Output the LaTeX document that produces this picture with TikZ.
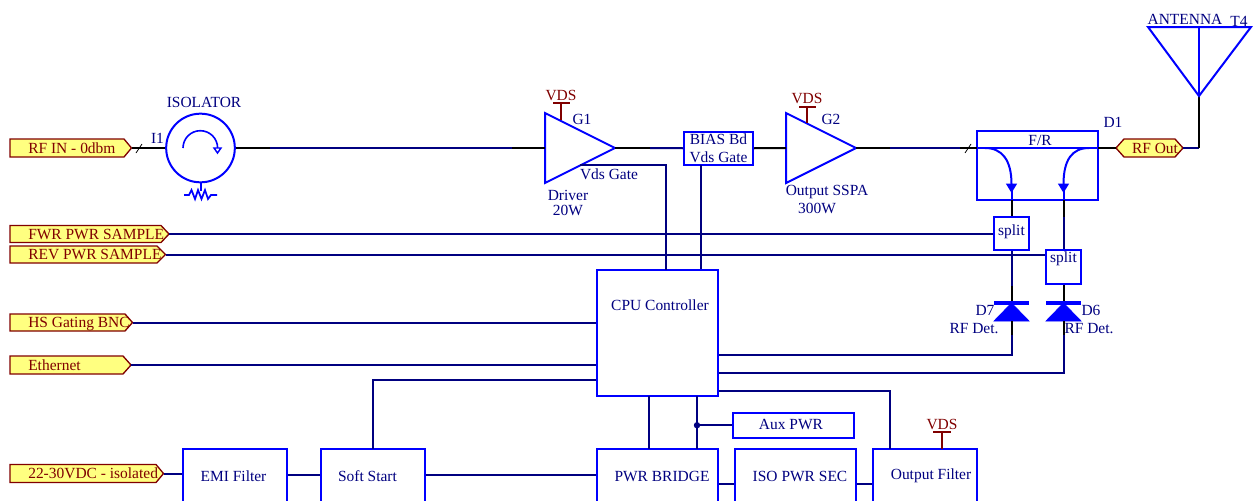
\documentclass[tikz,border=0pt]{standalone}
\usepackage{fontspec}
\setmainfont{Liberation Serif}
\usetikzlibrary{fit,arrows.meta}
\definecolor{wirenavy}{RGB}{0,0,128}
\definecolor{partblue}{RGB}{0,0,255}
\definecolor{portred}{RGB}{128,0,0}
\definecolor{portfill}{RGB}{255,255,128}
\tikzset{
  wire/.style={draw=wirenavy,line width=1.5pt},
  pin/.style={draw=black,line width=1.5pt},
  part/.style={draw=partblue,line width=1.5pt,line join=miter},
  blk/.style={part,inner sep=0pt,fill=white},
  txt/.style={text=wirenavy,font=\fontsize{11.6}{13.5}\selectfont,inner sep=0pt},
  porttxt/.style={text=portred,font=\fontsize{11.6}{13.5}\selectfont,inner sep=0pt},
  portshape/.style={draw=portred,fill=portfill,line width=1pt},
  pwr/.style={draw=portred,line width=1.3pt},
  pwrtxt/.style={text=portred,font=\fontsize{11.6}{13.5}\selectfont,inner sep=0pt},
  tick/.style={draw=black,line width=.6pt},
  sol/.style={-{Triangle[length=7pt,width=8pt,fill=partblue]}},
}
% name, x1, y1, x2, y2
\newcommand{\blockbox}[5]{\node[blk,fit={(#2,#3)(#4,#5)}] (#1) {};}
% right-pointing port: name, x2(shoulder), tip x, y top, y mid, y bottom, text
\newcommand{\portright}[7]{%
  \draw[portshape] (10,#4) -- (#2,#4) -- (#3,#5) -- (#2,#6) -- (10,#6) -- cycle;
  \coordinate (#1) at (#3,#5);
  \node[porttxt,anchor=base west] (#1txt) at (28,#5+5) {#7};}
\begin{document}
\begin{tikzpicture}[x=0.75pt,y=-0.75pt]
\useasboundingbox (0,0) rectangle (1253,500);
\clip (0,0) rectangle (1253,500);

% --- main RF wires
\coordinate (rfa) at (270,148);
\coordinate (rfb) at (512,148);
\coordinate (oa) at (890,148);
\coordinate (ob) at (960,148);
\draw[wire] (rfa) -- (rfb);
\draw[wire] (oa) -- (ob);

% --- ports on the left
\portright{rfin}{124}{131.5}{139}{148}{157}{RF IN - 0dbm}
\portright{fwr}{161}{169}{225.5}{234}{242.5}{FWR PWR SAMPLE}
\portright{rev}{157}{165.5}{246}{254.5}{263}{REV PWR SAMPLE}
\portright{hs}{125}{132.5}{314}{322.5}{331}{HS Gating BNC}
\portright{eth}{123}{131}{356}{365}{374}{Ethernet}
\portright{dc}{156}{163.5}{464.5}{473.5}{482.5}{22-30VDC - isolated}

% --- isolator
\node[circle,part,minimum size=51.5pt,inner sep=0pt] (iso) at (200.5,148) {};
\draw[pin] (rfin) -- (iso.west);
\draw[tick] (136,153) -- (142,144);
\draw[pin] (iso.east) -- (rfa);
\draw[part,line width=1.2pt] (183,148) arc[start angle=180,end angle=360,radius=17.3];
\draw[part,line width=1.1pt,fill=white] (214,148) -- (221,148) -- (217.5,153) -- cycle;
\coordinate (rtop) at (200.5,191);
\draw[part] (iso.south) -- (rtop);
\draw[part,line width=1.3pt] (184,195) -- (189,195) -- (191.5,190) -- (195,199) -- (198,190) -- (201.5,199) -- (205,190) -- (208,199) -- (211,195) -- (217,195);
\node[txt] (isol) at (204,102) {ISOLATOR};
\node[txt] (i1) at (157.5,138) {I1};

% --- amplifier G1
\draw[part] (545,113) coordinate (g1a) -- (615,148) coordinate (g1out) -- (545,183) coordinate (g1b) -- cycle;
\coordinate (g1in) at (545,148);
\draw[pin] (rfb) -- (g1in);
\draw[pwr] (561,103) coordinate (v1) -- (561,120);
\draw[pwr] (553,103) -- (570,103);
\node[pwrtxt] (v1t) at (561,95) {VDS};
\node[txt] (g1l) at (582,119) {G1};
\node[txt] (g1g) at (609,174) {Vds Gate};
\node[txt] (g1d) at (568,195) {Driver};
\node[txt] (g1w) at (568,210) {20W};

% --- bias board
\node[blk,fit={(684,131.5)(753,165)},align=center] (bias) {};
\node[txt,align=center] (biast) at (718.5,148.5) {BIAS Bd\\Vds Gate};
\coordinate (g1mid) at (650,148);
\draw[pin] (g1out) -- (g1mid);
\draw[wire] (g1mid) -- (bias.west);

% --- amplifier G2
\draw[part] (786,113) -- (856,148) coordinate (g2out) -- (786,183) -- cycle;
\coordinate (g2in) at (786,148);
\draw[pin] (bias.east) -- (g2in);
\draw[pin] (g2out) -- (oa);
\draw[pwr] (807,107) -- (807,123);
\draw[pwr] (799,107) -- (816,107);
\node[pwrtxt] (v2t) at (807,98) {VDS};
\node[txt] (g2l) at (831,119) {G2};
\node[txt] (g2o) at (827,192) {Output SSPA};
\node[txt] (g2w) at (817,208) {300W};

% --- F/R coupler
\node[blk,fit={(977,131)(1098,200)}] (fr) {};
\coordinate (frw) at (977,148);
\coordinate (fre) at (1098,148);
\draw[part] (frw) -- (fre);
\node[txt] (frt) at (1040,140) {F/R};
\node[txt] (d1) at (1113,122) {D1};
\draw[pin] (ob) -- (frw);
\draw[tick] (965,153) -- (971,144);
\coordinate (cl) at (1011.5,200);
\coordinate (cr) at (1063.5,200);
\draw[part,sol] (985,148) .. controls (1002,148) and (1011.5,160) .. (1011.5,193);
\draw[part] (1011.5,190) -- (cl);
\draw[part,sol] (1089,148) .. controls (1072,148) and (1063.5,160) .. (1063.5,193);
\draw[part] (1063.5,190) -- (cr);

% --- RF out and antenna
\draw[portshape] (1116,148) -- (1124,139) -- (1175,139) -- (1183,148) -- (1175,157) -- (1124,157) -- cycle;
\coordinate (rfo) at (1116,148);
\coordinate (rfoe) at (1183,148);
\node[porttxt] (rfot) at (1155,148) {RF Out};
\draw[pin] (fre) -- (rfo);
\coordinate (anta) at (1199,96);
\draw[wire] (rfoe) -- (1199,148);
\draw[pin] (1199,148) -- (anta);
\draw[part] (1148,27) -- (1251,27) -- (anta) -- cycle;
\draw[part] (1199,27) -- (anta);
\node[txt] (antt) at (1185,19) {ANTENNA};
\node[txt] (t4) at (1239,21) {T4};

% --- splitters and detectors
\node[blk,fit={(994,217)(1029,250)}] (s1) {};
\node[txt] (s1t) at (1011.5,232) {split};
\node[blk,fit={(1046,250)(1081,284)}] (s2) {};
\node[txt] (s2t) at (1063.5,259) {split};
\draw[pin] (cl) -- (s1.north);
\draw[pin] (cr) -- (1063.5,217);
\draw[wire] (1063.5,217) -- (s2.north);
\draw[wire] (fwr) -- (s1.west |- fwr);
\draw[wire] (rev) -- (s2.west |- rev);

\coordinate (d7k) at (1011.5,303);
\coordinate (d6k) at (1063.5,303);
\coordinate (d7a) at (1011.5,321);
\coordinate (d6a) at (1063.5,321);
\draw[wire] (s1.south) -- (1011.5,286);
\draw[pin] (1011.5,286) -- (d7k);
\draw[pin] (s2.south) -- (d6k);
\draw[part,line width=3pt] (994,303) -- (1029,303);
\draw[part,line width=3pt] (1046,303) -- (1081,303);
\draw[part,fill=partblue,line width=.5pt] (d7k) -- (1029,321) -- (994,321) -- cycle;
\draw[part,fill=partblue,line width=.5pt] (d6k) -- (1081,321) -- (1046,321) -- cycle;
\node[txt] (d7l) at (985,310) {D7};
\node[txt] (d7r) at (974,329) {RF Det.};
\node[txt] (d6l) at (1091,310) {D6};
\node[txt] (d6r) at (1089,329) {RF Det.};

% --- CPU
\node[blk,fit={(597,270)(718,396)}] (cpu) {};
\node[txt] (cput) at (660,305) {CPU Controller};
\coordinate (gg) at (580,165);
\coordinate (bt) at (701,165);
\draw[wire] (gg) -- (666,165) -- (666,270);
\draw[wire] (bt) -- (bt |- cpu.north);
\draw[wire] (hs) -- (cpu.west |- hs);
\draw[wire] (eth) -- (cpu.west |- eth);
\draw[pin] (d7a) -- (1011.5,335);
\draw[wire] (1011.5,335) -- (1011.5,354.5) -- (cpu.east |- 0,354.5);
\draw[pin] (d6a) -- (1063.5,335);
\draw[wire] (1063.5,335) -- (1063.5,372.5) -- (cpu.east |- 0,372.5);

% --- power chain
\blockbox{emi}{183}{449}{287}{503}
\blockbox{soft}{321}{449}{425}{503}
\blockbox{bridge}{597}{449}{718}{503}
\blockbox{isop}{735}{449}{856}{503}
\blockbox{outf}{873}{449}{977}{503}
\node[blk,fit={(733,413)(854,437.5)}] (aux) {};
\node[txt] (auxt) at (791,424.5) {Aux PWR};
\node[txt] (emit) at (233.5,476) {EMI Filter};
\node[txt] (softt) at (367.5,476) {Soft Start};
\node[txt] (bridget) at (662,476) {PWR BRIDGE};
\node[txt] (isot) at (800,476) {ISO PWR SEC};
\node[txt] (outft) at (931,476) {Output Filter};

\draw[wire] (dc) -- (emi.west |- dc);
\draw[wire] (emi.east |- 0,475) -- (soft.west |- 0,475);
\draw[wire] (soft.east |- 0,475) -- (bridge.west |- 0,475);
\draw[wire] (bridge.east |- 0,484) -- (isop.west |- 0,484);
\draw[wire] (isop.east |- 0,484) -- (outf.west |- 0,484);
\draw[wire] (373,449) -- (373,380) -- (cpu.west |- 0,380);
\draw[wire] (649,396) -- (649,449);
\draw[wire] (697,396) -- (697,449);
\coordinate (j) at (697,425.25);
\fill[wirenavy] (j) circle[radius=3.2];
\draw[wire] (j) -- (aux.west);
\draw[wire] (cpu.east |- 0,391) -- (890,391) -- (890,449);
\draw[pwr] (942,432) -- (942,449);
\draw[pwr] (933,432) -- (951,432);
\node[pwrtxt] (v3t) at (942,424) {VDS};
\end{tikzpicture}
\end{document}
